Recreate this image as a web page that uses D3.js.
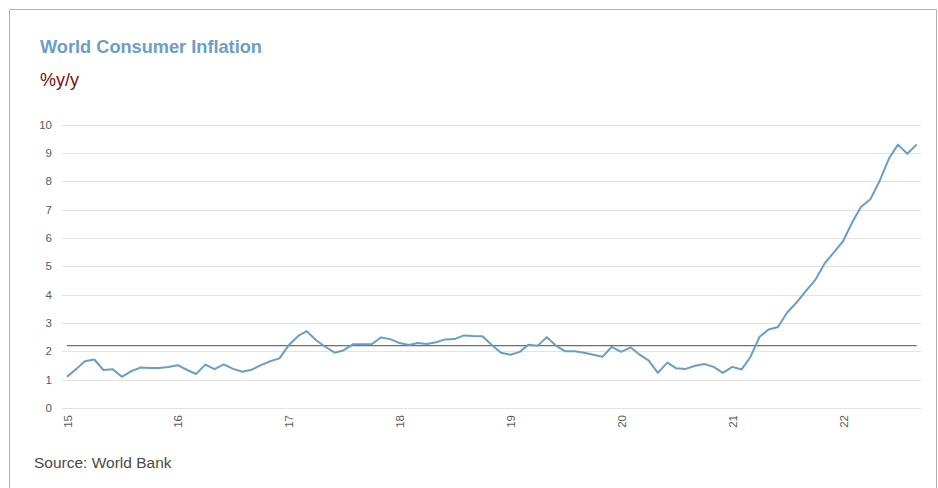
<!DOCTYPE html>
<html><head><meta charset="utf-8">
<script src="https://cdn.jsdelivr.net/npm/d3@7"></script>
<style>body{margin:0;background:#fff}svg{display:block}</style>
</head><body>
<script>
const startYear = 2015, startMonth = 0;
const values = [
 1.10,1.38,1.65,1.71,1.34,1.37,1.10,1.30,1.43,1.41,1.41,1.45,
 1.51,1.34,1.20,1.53,1.37,1.54,1.38,1.28,1.35,1.51,1.65,1.75,
 2.22,2.54,2.71,2.39,2.16,1.95,2.04,2.25,2.25,2.25,2.49,2.43,
 2.29,2.22,2.29,2.26,2.32,2.42,2.43,2.56,2.54,2.53,2.22,1.95,
 1.88,1.98,2.23,2.20,2.50,2.19,2.00,2.00,1.95,1.88,1.81,2.16,
 1.98,2.14,1.89,1.67,1.24,1.60,1.40,1.38,1.49,1.55,1.45,1.24,
 1.45,1.36,1.78,2.51,2.77,2.86,3.37,3.72,4.13,4.51,5.09,5.48,
 5.88,6.56,7.09,7.36,7.99,8.79,9.29,8.97,9.30
];
const referenceValue = 2.2;
const yTicks = [0,1,2,3,4,5,6,7,8,9,10];
const xTickYears = [2015,2016,2017,2018,2019,2020,2021,2022];
const xTickLabels = ["15","16","17","18","19","20","21","22"];
const title = "World Consumer Inflation";
const subtitle = "%y/y";
const source = "Source: World Bank";

const W = 938, H = 488;
const data = values.map((v,i)=>({date:new Date(startYear, startMonth+i, 1), v}));
const svg = d3.select("body").append("svg").attr("width",W).attr("height",H);

// frame
svg.append("path").attr("d","M9.5,488 V9.5 H936.5 V488").attr("fill","none").attr("stroke","#b3b3b3").attr("stroke-width",1);

const x = d3.scaleTime().domain([new Date(2015,0,1), new Date(2022,0,1)]).range([67,843]);
const y = d3.scaleLinear().domain([0,10]).range([408,124.5]);

// gridlines
svg.append("g").selectAll("line").data(yTicks).join("line")
  .attr("x1",62).attr("x2",921)
  .attr("y1",d=>Math.round(y(d))+0.5).attr("y2",d=>Math.round(y(d))+0.5)
  .attr("stroke","#e3e3e3").attr("stroke-width",1);

// y axis labels
const yAxis = d3.axisLeft(y).tickValues(yTicks).tickSize(0).tickPadding(0).tickFormat(d3.format("d"));
const gy = svg.append("g").attr("transform","translate(52,0)").call(yAxis);
gy.select(".domain").remove();
gy.selectAll("text").attr("font-family","Liberation Sans, Arial, sans-serif").attr("font-size",11.5).attr("fill","#595959");

// x axis labels
const xAxis = d3.axisBottom(x).tickValues(xTickYears.map(yr=>new Date(yr,0,1))).tickSize(0).tickPadding(0)
  .tickFormat((d,i)=>xTickLabels[i]);
const gx = svg.append("g").attr("transform","translate(0,414)").call(xAxis);
gx.select(".domain").remove();
gx.selectAll("text").attr("font-family","Liberation Sans, Arial, sans-serif").attr("font-size",11.5).attr("fill","#595959")
  .attr("transform","rotate(-90)").attr("text-anchor","end").attr("x",-1).attr("y",0).attr("dy","0.35em");

// reference line
svg.append("line")
  .attr("x1",x(data[0].date)).attr("x2",x(data[data.length-1].date))
  .attr("y1",y(referenceValue)).attr("y2",y(referenceValue))
  .attr("stroke","#6e6e6e").attr("stroke-width",1.3);

// series line
svg.append("path").datum(data)
  .attr("d",d3.line().x(d=>x(d.date)).y(d=>y(d.v)))
  .attr("fill","none").attr("stroke","#6a9ec7").attr("stroke-width",2).attr("stroke-linejoin","round");

// texts
svg.append("text").attr("x",40).attr("y",53).text(title)
  .attr("font-family","Liberation Sans, Arial, sans-serif").attr("font-weight","bold").attr("font-size",18.2).attr("fill","#6c9ec8");
svg.append("text").attr("x",40).attr("y",86).text(subtitle)
  .attr("font-family","Liberation Sans, Arial, sans-serif").attr("font-size",18).attr("fill","#7b0c0c");
svg.append("text").attr("x",34).attr("y",468).text(source)
  .attr("font-family","Liberation Sans, Arial, sans-serif").attr("font-size",15.5).attr("fill","#4a4a4a");
</script>
</body></html>
